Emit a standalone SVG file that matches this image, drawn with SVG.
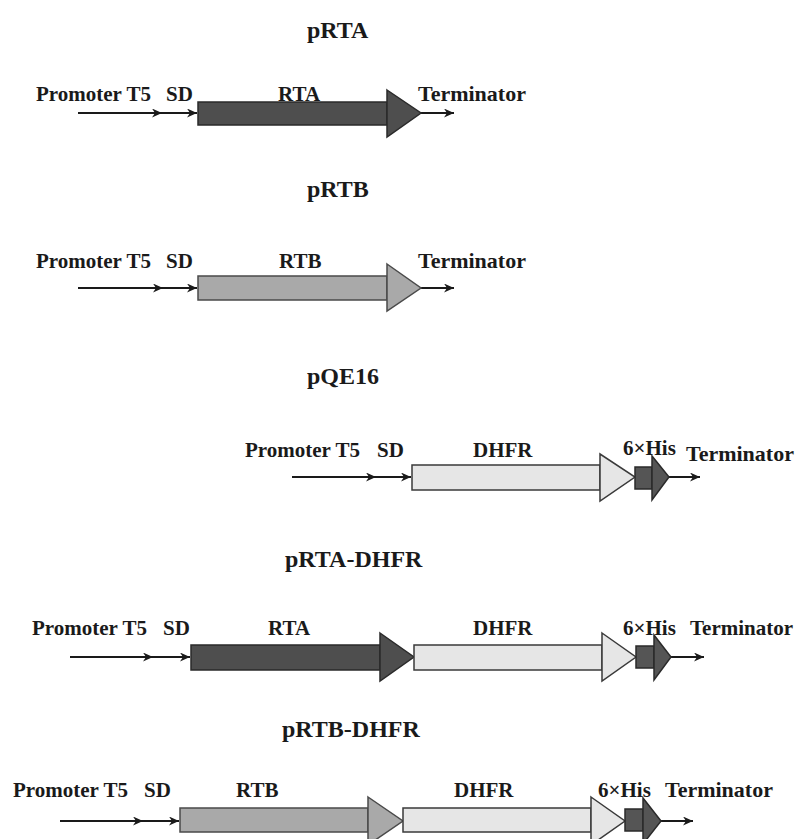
<svg xmlns="http://www.w3.org/2000/svg" width="800" height="839" viewBox="0 0 800 839">
<style>
text{font-family:"Liberation Serif","Times New Roman",serif;font-weight:bold;fill:#1a1a1a}
.title{font-size:24px}
.lbl{font-size:21px}
.conn{stroke:#1a1a1a;stroke-width:2;fill:none;marker-end:url(#ah)}
.rta{fill:#4e4e4e;stroke:#2a2a2a;stroke-width:1.5}
.rtb{fill:#a9a9a9;stroke:#4a4a4a;stroke-width:1.5}
.dhfr{fill:#e6e6e6;stroke:#3a3a3a;stroke-width:1.5}
.his{fill:#555;stroke:#2a2a2a;stroke-width:1.5}
</style>
<defs>
<marker id="ah" markerUnits="userSpaceOnUse" markerWidth="11" markerHeight="9" refX="10" refY="4.5" orient="auto">
<path d="M0,0 L10,4.5 L0,9 L3,4.5 z" fill="#1a1a1a"/>
</marker>
</defs>
<rect width="800" height="839" fill="#fff"/>

<g id="connectors">
<path class="conn" d="M78,113 L162,113"/>
<path class="conn" d="M162,113 L197,113"/>
<path class="conn" d="M421,113 L454,113"/>
<path class="conn" d="M78,288 L163,288"/>
<path class="conn" d="M163,288 L197,288"/>
<path class="conn" d="M421,288 L454,288"/>
<path class="conn" d="M292,477 L376,477"/>
<path class="conn" d="M376,477 L411,477"/>
<path class="conn" d="M669,477 L700,477"/>
<path class="conn" d="M70,657 L153,657"/>
<path class="conn" d="M153,657 L190,657"/>
<path class="conn" d="M671,657 L704,657"/>
<path class="conn" d="M60,821 L143,821"/>
<path class="conn" d="M143,821 L179,821"/>
<path class="conn" d="M661,821 L693,821"/>
</g>

<g id="pRTA">
<text class="title" x="307" y="38">pRTA</text>
<text class="lbl" x="36" y="101">Promoter T5</text>
<text class="lbl" x="166" y="101">SD</text>
<text class="lbl" x="278" y="101">RTA</text>
<text class="lbl" x="418" y="101" style="font-size:22px">Terminator</text>
<rect class="rta" x="198" y="102" width="189" height="23"/>
<polygon class="rta" points="387,90 421,113 387,137"/>
</g>

<g id="pRTB">
<text class="title" x="307" y="197">pRTB</text>
<text class="lbl" x="36" y="268">Promoter T5</text>
<text class="lbl" x="166" y="268">SD</text>
<text class="lbl" x="279" y="268">RTB</text>
<text class="lbl" x="418" y="268" style="font-size:22px">Terminator</text>
<rect class="rtb" x="198" y="276" width="189" height="24"/>
<polygon class="rtb" points="387,264 421,288 387,311"/>
</g>

<g id="pQE16">
<text class="title" x="307" y="384">pQE16</text>
<text class="lbl" x="245" y="457">Promoter T5</text>
<text class="lbl" x="377" y="457">SD</text>
<text class="lbl" x="473" y="457">DHFR</text>
<rect class="dhfr" x="412" y="465" width="188" height="25"/>
<polygon class="dhfr" points="600,454 635,477 600,501"/>
<rect class="his" x="635" y="467" width="17" height="22"/>
<polygon class="his" points="652,456 669,477 652,500"/>
<text class="lbl" x="623" y="455">6×His</text>
<text class="lbl" x="686" y="461" style="font-size:22px">Terminator</text>
</g>

<g id="pRTA-DHFR">
<text class="title" x="285" y="567">pRTA-DHFR</text>
<text class="lbl" x="32" y="635">Promoter T5</text>
<text class="lbl" x="163" y="635">SD</text>
<text class="lbl" x="268" y="635">RTA</text>
<text class="lbl" x="473" y="635">DHFR</text>
<rect class="rta" x="191" y="645" width="189" height="25"/>
<polygon class="rta" points="380,633 414,657 380,681"/>
<rect class="dhfr" x="414" y="645" width="188" height="25"/>
<polygon class="dhfr" points="602,633 636,657 602,681"/>
<rect class="his" x="636" y="646" width="18" height="22"/>
<polygon class="his" points="654,635 671,657 654,680"/>
<text class="lbl" x="623" y="635">6×His</text>
<text class="lbl" x="690" y="635">Terminator</text>
</g>

<g id="pRTB-DHFR">
<text class="title" x="282" y="737">pRTB-DHFR</text>
<text class="lbl" x="13" y="797">Promoter T5</text>
<text class="lbl" x="144" y="797">SD</text>
<text class="lbl" x="236" y="797">RTB</text>
<text class="lbl" x="454" y="797">DHFR</text>
<rect class="rtb" x="180" y="808" width="188" height="24"/>
<polygon class="rtb" points="368,797 403,821 368,845"/>
<rect class="dhfr" x="403" y="808" width="188" height="24"/>
<polygon class="dhfr" points="591,797 625,821 591,845"/>
<rect class="his" x="625" y="809" width="18" height="22"/>
<polygon class="his" points="643,798 661,821 643,844"/>
<text class="lbl" x="598" y="797">6×His</text>
<text class="lbl" x="665" y="797" style="font-size:22px">Terminator</text>
</g>
</svg>
